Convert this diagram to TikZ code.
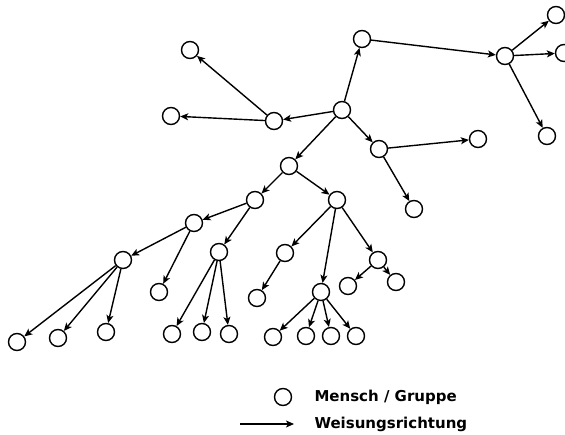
\documentclass[tikz,border=0pt]{standalone}
\usepackage{fontspec}
\setmainfont{DejaVu Sans}
\usetikzlibrary{arrows.meta}

\begin{document}
\begin{tikzpicture}[x=1pt,y=-1pt,
        person/.style={draw,circle,line width=1.4pt,minimum size=17pt,inner sep=0pt,fill=white},
        order/.style={line width=1.4pt,-{Stealth[length=8pt,width=7pt,inset=2pt]}},
        legendtext/.style={anchor=west,font=\fontsize{15}{17}\selectfont\bfseries}]
        \useasboundingbox (0,0) rectangle (565,435);
        \node[person] (r) at (342,110) {};
        \node[person] (t) at (362,39) {};
        \node[person] (h) at (505,56) {};
        \node[person] (h1) at (556,15) {};
        \node[person] (h2) at (564,53) {};
        \node[person] (h3) at (547,136) {};
        \node[person] (l) at (274,121) {};
        \node[person] (l1) at (190,50) {};
        \node[person] (l2) at (171,116) {};
        \node[person] (m) at (379,149) {};
        \node[person] (m1) at (478,139) {};
        \node[person] (m2) at (414,209) {};
        \node[person] (d) at (289,166) {};
        \node[person] (a) at (255,200) {};
        \node[person] (b) at (337,200) {};
        \node[person] (c) at (194,223) {};
        \node[person] (e) at (219,252) {};
        \node[person] (f) at (123,260) {};
        \node[person] (g) at (159,292) {};
        \node[person] (f1) at (17,342) {};
        \node[person] (f2) at (58,338) {};
        \node[person] (f3) at (106,332) {};
        \node[person] (e1) at (172,334) {};
        \node[person] (e2) at (202,332) {};
        \node[person] (e3) at (229,334) {};
        \node[person] (i) at (285,253) {};
        \node[person] (i1) at (257,298) {};
        \node[person] (j) at (321,292) {};
        \node[person] (j1) at (273,337) {};
        \node[person] (j2) at (306,336) {};
        \node[person] (j3) at (331,336) {};
        \node[person] (j4) at (356,336) {};
        \node[person] (k) at (378,260) {};
        \node[person] (k1) at (348,286) {};
        \node[person] (k2) at (396,282) {};
        \foreach \from/\to in {r/t,t/h,h/h1,h/h2,h/h3,r/l,l/l1,l/l2,r/m,m/m1,m/m2,
                r/d,d/a,d/b,a/c,a/e,c/f,c/g,f/f1,f/f2,f/f3,e/e1,e/e2,e/e3,
                b/i,b/j,b/k,i/i1,j/j1,j/j2,j/j3,j/j4,k/k1,k/k2}
            \draw[order] (\from) -- (\to);
        % legend
        \node[person] (key) at (283,397) {};
        \node[legendtext] (keytext) at (311,397) {Mensch / Gruppe};
        \coordinate (arrowstart) at (240,424);
        \coordinate (arrowend) at (294,424);
        \draw[order] (arrowstart) -- (arrowend);
        \node[legendtext] (arrowtext) at (311,424) {Weisungsrichtung};
    \end{tikzpicture}
\end{document}
